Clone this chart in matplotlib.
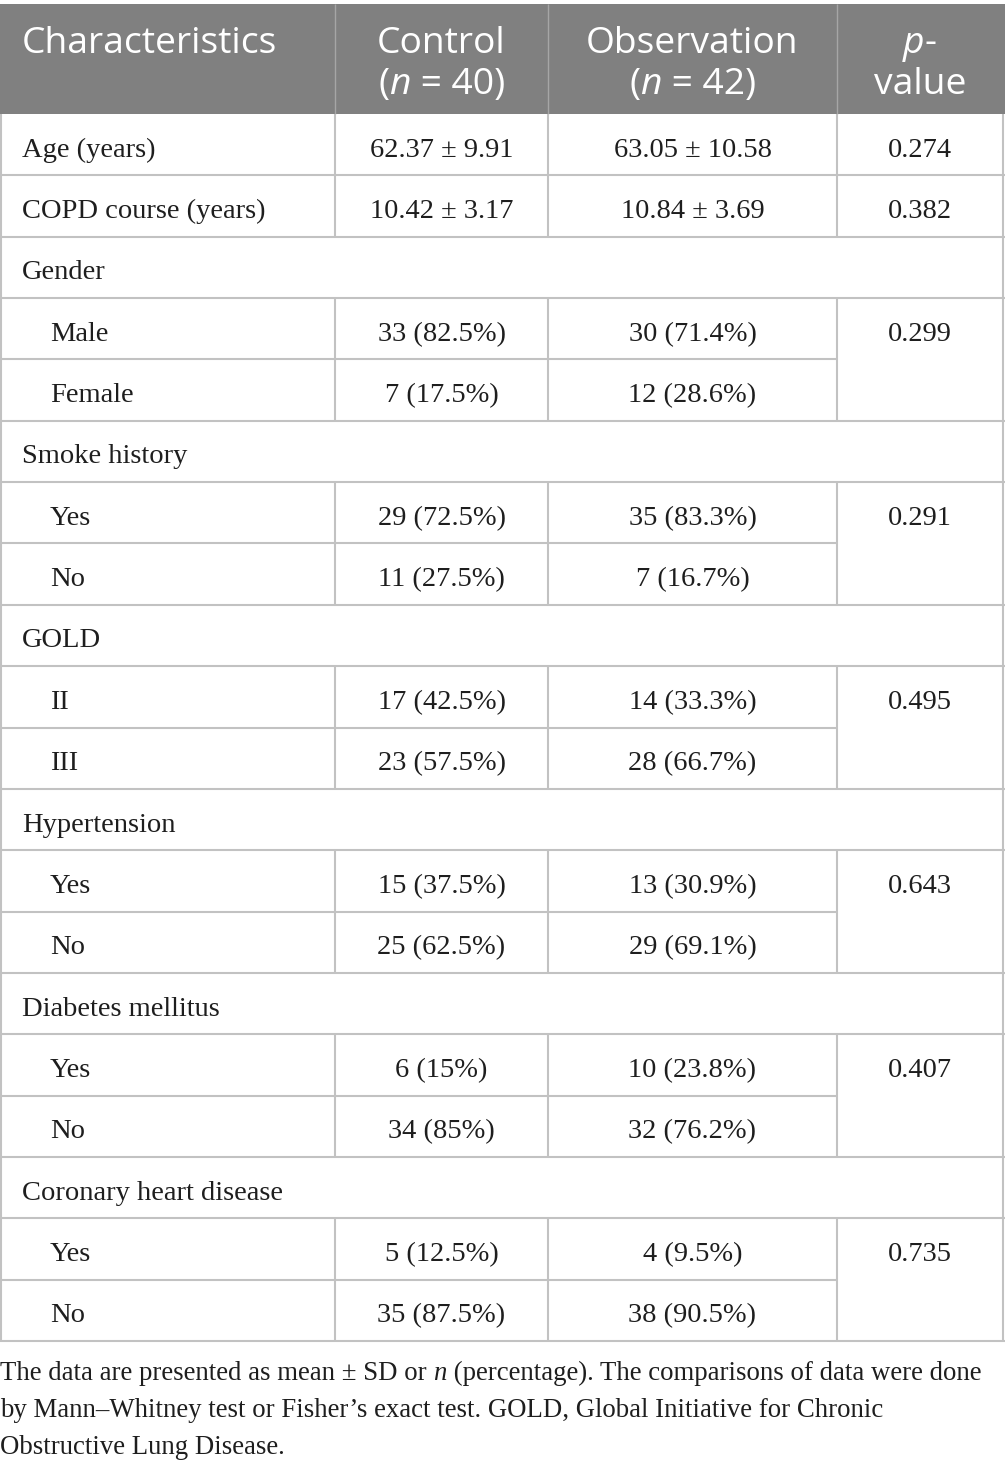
import matplotlib
matplotlib.use("Agg")
import matplotlib.pyplot as plt

# ---- table data ----
header = [
    [("Characteristics", "n")],
    [("Control", "n"), ("\n", "n"), ("(", "n"), ("n", "i"), (" = 40)", "n")],
    [("Observation", "n"), ("\n", "n"), ("(", "n"), ("n", "i"), (" = 42)", "n")],
    [("p", "i"), ("-", "n"), ("\n", "n"), ("value", "n")],
]

labels = ["Age (years)", "COPD course (years)",
          "Gender", "Male", "Female",
          "Smoke history", "Yes", "No",
          "GOLD", "II", "III",
          "Hypertension", "Yes", "No",
          "Diabetes mellitus", "Yes", "No",
          "Coronary heart disease", "Yes", "No"]
kinds = ["row", "row",
         "group", "sub1", "sub2",
         "group", "sub1", "sub2",
         "group", "sub1", "sub2",
         "group", "sub1", "sub2",
         "group", "sub1", "sub2",
         "group", "sub1", "sub2"]
control = ["62.37 ± 9.91", "10.42 ± 3.17",
           "", "33 (82.5%)", "7 (17.5%)",
           "", "29 (72.5%)", "11 (27.5%)",
           "", "17 (42.5%)", "23 (57.5%)",
           "", "15 (37.5%)", "25 (62.5%)",
           "", "6 (15%)", "34 (85%)",
           "", "5 (12.5%)", "35 (87.5%)"]
observation = ["63.05 ± 10.58", "10.84 ± 3.69",
               "", "30 (71.4%)", "12 (28.6%)",
               "", "35 (83.3%)", "7 (16.7%)",
               "", "14 (33.3%)", "28 (66.7%)",
               "", "13 (30.9%)", "29 (69.1%)",
               "", "10 (23.8%)", "32 (76.2%)",
               "", "4 (9.5%)", "38 (90.5%)"]
pvalues = ["0.274", "0.382",
           "", "0.299", "",
           "", "0.291", "",
           "", "0.495", "",
           "", "0.643", "",
           "", "0.407", "",
           "", "0.735", ""]

footnote = [
    [("The data are presented as mean ± SD or ", "n"), ("n", "i"),
     (" (percentage). The comparisons of data were done", "n")],
    [("by Mann–Whitney test or Fisher’s exact test. GOLD, Global Initiative for Chronic", "n")],
    [("Obstructive Lung Disease.", "n")],
]

# ---- layout (pixels) ----
W, H = 1005, 1469
col_x = [1, 335, 548, 837, 1003]
top, head_bot = 4, 114
row_h = (1341 - 114) / len(labels)
grid_c = "#c2c2c2"
head_c = "#808080"
txt_c = "#1e1e1e"
sans = "Open Sans"
serif = "Liberation Serif"
head_size = 26.8
body_size = 20.5
foot_size = 19.3

fig = plt.figure(figsize=(W / 100, H / 100), dpi=100)
ax = fig.add_axes([0, 0, 1, 1])
ax.set_xlim(0, W)
ax.set_ylim(H, 0)
ax.axis("off")
renderer = fig.canvas.get_renderer()


def run_w(s, st, family, size):
    t = ax.text(0, 0, s, family=family, fontsize=size,
                style="italic" if st == "i" else "normal")
    w = t.get_window_extent(renderer).width
    t.remove()
    return w


def draw_runs(x, baselines, runs, family, size, color, ha="left"):
    lines, cur = [], []
    for r in runs:
        if r[0] == "\n":
            lines.append(cur)
            cur = []
        else:
            cur.append(r)
    lines.append(cur)
    for k, line in enumerate(lines):
        w = sum(run_w(s, st, family, size) for s, st in line)
        xx = x - w / 2 if ha == "center" else x
        for s, st in line:
            ax.text(xx, baselines[k], s, family=family, fontsize=size,
                    color=color, va="baseline", ha="left",
                    style="italic" if st == "i" else "normal")
            xx += run_w(s, st, family, size)


# header band
ax.add_patch(plt.Rectangle((0, top), W, head_bot - top, color=head_c, lw=0))
hx = [22, (col_x[1] + col_x[2]) / 2, (col_x[2] + col_x[3]) / 2, (col_x[3] + col_x[4]) / 2]
for i, runs in enumerate(header):
    draw_runs(hx[i], [53, 94], runs, sans, head_size, "white",
              ha="left" if i == 0 else "center")
for x in col_x[1:4]:
    ax.vlines(x, top, head_bot, color="#a6a6a6", lw=1)

# body
for i, lab in enumerate(labels):
    y0 = head_bot + i * row_h
    yb = y0 + row_h / 2 + 12
    k = kinds[i]
    indent = 50 if k.startswith("sub") else 22
    ax.text(indent, yb, lab, family=serif, fontsize=body_size, va="baseline", color=txt_c)
    for x, vals in zip(hx[1:], [control, observation, pvalues]):
        ax.text(x, yb, vals[i], family=serif, fontsize=body_size, va="baseline",
                ha="center", color=txt_c)
    y1 = y0 + row_h
    if k == "sub1":
        ax.hlines(y1, 0, col_x[3], color=grid_c, lw=1.5)
    else:
        ax.hlines(y1, 0, W, color=grid_c, lw=1.5)
    if k != "group":
        for x in col_x[1:4]:
            ax.vlines(x, y0, y1, color=grid_c, lw=1.5)
    ax.vlines([col_x[0], col_x[4]], y0, y1, color=grid_c, lw=1.5)

# footnote
for j, runs in enumerate(footnote):
    draw_runs(0, [1380 + j * 37], runs, serif, foot_size, txt_c)

fig.savefig("out.png", dpi=100)
